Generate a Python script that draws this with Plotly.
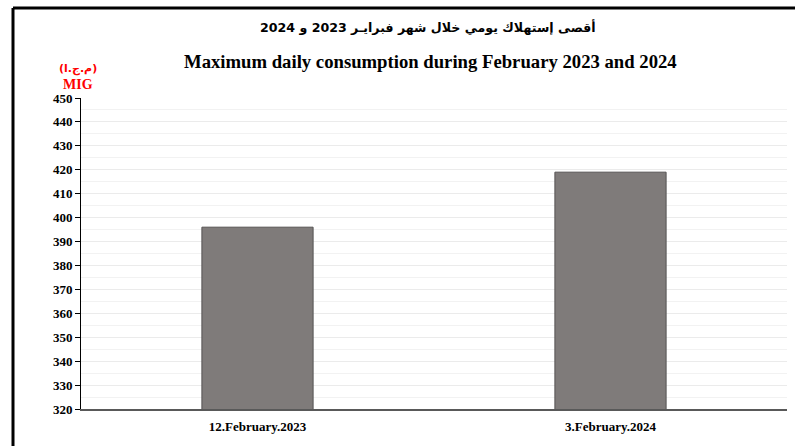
import plotly.graph_objects as go

categories = ["12.February.2023", "3.February.2024"]
values = [396, 419]
y_ticks = list(range(320, 451, 10))

title_ar = "أقصى إستهلاك يومي خلال شهر فبرايـر 2023 و 2024"
title_en = "Maximum daily consumption during February 2023 and 2024"
unit_ar = "(م.ج.ا)"
unit_en = "MIG"

serif = "Liberation Serif, Times New Roman, serif"

fig = go.Figure()
fig.add_trace(go.Bar(
    x=categories, y=values,
    marker=dict(color="#7F7B7A", line=dict(color="#555252", width=1)),
    width=0.315,
))

fig.update_layout(
    width=795, height=446,
    margin=dict(l=81, r=8, t=98, b=37),
    paper_bgcolor="white", plot_bgcolor="white",
    showlegend=False,
)
fig.update_yaxes(
    range=[320, 450], tickvals=y_ticks, ticktext=["<b>%d</b>" % v for v in y_ticks],
    showline=True, linecolor="black", linewidth=1,
    ticks="outside", ticklen=5, tickcolor="black",
    tickfont=dict(family=serif, size=13, color="black"),
    showgrid=True, gridcolor="#EBEBEB", gridwidth=1,
    minor=dict(dtick=5, showgrid=True, gridcolor="#F2F2F2", gridwidth=1),
    zeroline=False,
)
fig.update_xaxes(
    showline=True, linecolor="#595959", linewidth=2,
    ticks="", tickfont=dict(family=serif, size=13, color="black"),
    tickvals=categories, ticktext=["<b>%s</b>" % c for c in categories],
    showgrid=False, ticklabelstandoff=4,
)

fig.add_annotation(text="<b>" + title_ar + "</b>", xref="paper", yref="paper",
                   x=(428 - 81) / 706, y=(446 - 37 - 27) / 311, yanchor="middle", xanchor="center",
                   showarrow=False, font=dict(family="DejaVu Sans, Noto Sans, sans-serif", size=12.6, color="black"))
fig.add_annotation(text="<b>" + title_en + "</b>", xref="paper", yref="paper",
                   x=(430 - 81) / 706, y=(446 - 37 - 61) / 311, yanchor="middle", xanchor="center",
                   showarrow=False, font=dict(family=serif, size=18.7, color="black"))
fig.add_annotation(text="<b>" + unit_ar + "</b>", xref="paper", yref="paper",
                   x=(78 - 81) / 706, y=(446 - 37 - 69) / 311, yanchor="middle", xanchor="center",
                   showarrow=False, font=dict(family="DejaVu Sans, sans-serif", size=11, color="#FF0000"))
fig.add_annotation(text="<b>" + unit_en + "</b>", xref="paper", yref="paper",
                   x=(78 - 81) / 706, y=(446 - 37 - 84) / 311, yanchor="middle", xanchor="center",
                   showarrow=False, font=dict(family=serif, size=14, color="#FF0000"))

# outer chart-area frame (top and left edges visible)
fig.add_shape(type="line", xref="paper", yref="paper",
              x0=(13 - 81) / 706, x1=(800 - 81) / 706, y0=(446 - 37 - 8) / 311, y1=(446 - 37 - 8) / 311,
              line=dict(color="black", width=3))
fig.add_shape(type="line", xref="paper", yref="paper",
              x0=(13 - 81) / 706, x1=(13 - 81) / 706, y0=(446 - 37 - 8) / 311, y1=-0.2,
              line=dict(color="black", width=3))

fig.write_html("out.html", config={"displayModeBar": False},
               post_script="document.body.style.margin='0';")
